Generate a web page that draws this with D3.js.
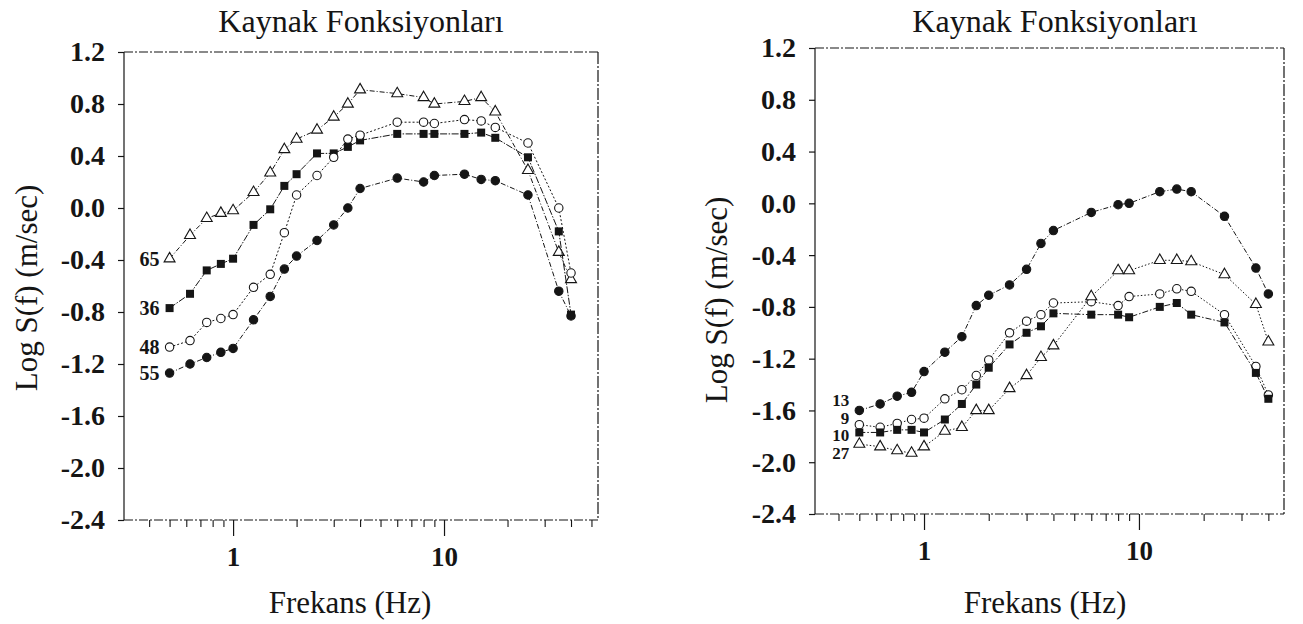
<!DOCTYPE html>
<html><head><meta charset="utf-8">
<script src="https://cdn.jsdelivr.net/npm/d3@7"></script>
<style>body{margin:0;background:#fff}</style>
</head><body>
<svg id="chart" width="1303" height="624"></svg>
<script>
// ---------- DATA ----------
const frequencies = [0.5, 0.625, 0.75, 0.875, 1.0, 1.25, 1.5, 1.75, 2.0, 2.5, 3.0, 3.5, 4.0, 6.0, 8.0, 9.0, 12.5, 15, 17.5, 25, 35, 40];

const leftNames = ["65", "36", "48", "55"];
const left65 = [-0.39,-0.21,-0.08,-0.04,-0.02,0.12,0.27,0.45,0.53,0.60,0.70,0.80,0.91,0.88,0.85,0.80,0.82,0.85,0.74,0.29,-0.34,-0.55];
const left36 = [-0.77,-0.66,-0.48,-0.43,-0.39,-0.13,-0.01,0.17,0.26,0.42,0.42,0.47,0.52,0.57,0.57,0.57,0.57,0.58,0.54,0.39,-0.18,-0.82];
const left48 = [-1.07,-1.02,-0.88,-0.85,-0.82,-0.61,-0.51,-0.19,0.10,0.25,0.39,0.53,0.56,0.66,0.66,0.65,0.68,0.67,0.62,0.50,0.00,-0.50];
const left55 = [-1.27,-1.20,-1.15,-1.11,-1.08,-0.86,-0.68,-0.47,-0.37,-0.25,-0.13,0.00,0.15,0.23,0.20,0.25,0.26,0.22,0.21,0.10,-0.64,-0.83];

const rightNames = ["13", "9", "10", "27"];
const right13 = [-1.60,-1.55,-1.49,-1.46,-1.30,-1.15,-1.03,-0.79,-0.71,-0.63,-0.51,-0.31,-0.21,-0.07,-0.01,0.00,0.09,0.11,0.09,-0.10,-0.50,-0.70];
const right9  = [-1.71,-1.73,-1.70,-1.67,-1.66,-1.51,-1.44,-1.33,-1.21,-1.00,-0.91,-0.86,-0.77,-0.76,-0.79,-0.72,-0.70,-0.66,-0.68,-0.86,-1.26,-1.48];
const right10 = [-1.77,-1.77,-1.75,-1.75,-1.77,-1.67,-1.55,-1.40,-1.27,-1.09,-1.00,-0.95,-0.85,-0.86,-0.86,-0.88,-0.80,-0.77,-0.86,-0.92,-1.31,-1.51];
const right27 = [-1.86,-1.88,-1.91,-1.93,-1.88,-1.76,-1.73,-1.60,-1.60,-1.43,-1.33,-1.19,-1.10,-0.72,-0.52,-0.52,-0.44,-0.44,-0.45,-0.55,-0.78,-1.07];
// vertical anchor (data units) of the right panel's stacked series labels
const rightNameLevels = [-1.52, -1.655, -1.79, -1.93];

const yTickValues = [1.2, 0.8, 0.4, 0.0, -0.4, -0.8, -1.2, -1.6, -2.0, -2.4];
const yTickLabels = ["1.2", "0.8", "0.4", "0.0", "-0.4", "-0.8", "-1.2", "-1.6", "-2.0", "-2.4"];
const xMajorTicks = [1, 10];
const xMajorLabels = ["1", "10"];
const xMinorTicks = [0.4,0.5,0.6,0.7,0.8,0.9,2,3,4,5,6,7,8,9,20,30,40,50];

const titleText = "Kaynak Fonksiyonları";
const xTitleText = "Frekans (Hz)";
const yTitleText = "Log S(f) (m/sec)";

// ---------- LAYOUT ----------
const FONT = '"Liberation Serif"';
const panels = [
  { left:124, right:598, top:52, bottom:520, xDomain:[0.304, 53.7],
    titleX:361, xTitleX:350, yTitleX:37, yTitleY:288,
    series:[
      {name:leftNames[0], values:left65, marker:"tri",    dash:"5,2,1,2"},
      {name:leftNames[1], values:left36, marker:"square", dash:"7,1.5,1.5,1.5"},
      {name:leftNames[2], values:left48, marker:"ocircle",dash:"2,2"},
      {name:leftNames[3], values:left55, marker:"fcircle",dash:"5,2,1,2"}
    ],
    nameFont:20, nameLevels:null },
  { left:815, right:1284, top:48, bottom:514, xDomain:[0.311, 47.3],
    titleX:1055, xTitleX:1045, yTitleX:727, yTitleY:300,
    series:[
      {name:rightNames[0], values:right13, marker:"fcircle",dash:"5,2,1,2"},
      {name:rightNames[1], values:right9,  marker:"ocircle",dash:"1.5,2"},
      {name:rightNames[2], values:right10, marker:"square", dash:"6,2,1.5,2"},
      {name:rightNames[3], values:right27, marker:"tri",    dash:"1.5,2"}
    ],
    nameFont:17, nameLevels:rightNameLevels }
];

const svg = d3.select("#chart");
const ink = "#151515";

panels.forEach(p => {
  const x = d3.scaleLog().domain(p.xDomain).range([p.left, p.right]);
  const y = d3.scaleLinear().domain([-2.4, 1.2]).range([p.bottom, p.top]);
  const g = svg.append("g");

  // frame
  const frame = [
    {x1:p.left, y1:p.top, x2:p.right, y2:p.top, dash:"9,2,2,2"},
    {x1:p.left, y1:p.bottom, x2:p.right, y2:p.bottom, dash:"9,2,2,2"},
    {x1:p.left, y1:p.top, x2:p.left, y2:p.bottom, dash:null},
    {x1:p.right, y1:p.top, x2:p.right, y2:p.bottom, dash:"12,2,2,2"}
  ];
  g.selectAll("line.frame").data(frame).join("line")
    .attr("class","frame")
    .attr("x1",d=>d.x1).attr("y1",d=>d.y1).attr("x2",d=>d.x2).attr("y2",d=>d.y2)
    .attr("stroke",ink).attr("stroke-width",1.2)
    .attr("stroke-dasharray",d=>d.dash);

  // y axis
  const yAxis = d3.axisLeft(y).tickValues(yTickValues)
    .tickFormat((d,i)=>yTickLabels[i]).tickSize(6).tickPadding(13);
  const ya = g.append("g").attr("transform",`translate(${p.left},0)`).call(yAxis);
  ya.select(".domain").remove();
  ya.selectAll("line").attr("stroke",ink).attr("stroke-width",1.2);
  ya.selectAll("text").style("font-family",FONT).style("font-size","28px")
    .style("font-weight","bold").style("fill",ink);

  // x axis minor ticks
  const minor = xMinorTicks.filter(v => v >= p.xDomain[0] && v <= p.xDomain[1]);
  const xMin = d3.axisBottom(x).tickValues(minor).tickFormat("").tickSize(7);
  const xa1 = g.append("g").attr("transform",`translate(0,${p.bottom})`).call(xMin);
  xa1.select(".domain").remove();
  xa1.selectAll("line").attr("stroke",ink).attr("stroke-width",1.1);

  // x axis major ticks
  const xMaj = d3.axisBottom(x).tickValues(xMajorTicks)
    .tickFormat((d,i)=>xMajorLabels[i]).tickSize(16).tickPadding(11);
  const xa2 = g.append("g").attr("transform",`translate(0,${p.bottom})`).call(xMaj);
  xa2.select(".domain").remove();
  xa2.selectAll("line").attr("stroke",ink).attr("stroke-width",1.2);
  xa2.selectAll("text").style("font-family",FONT).style("font-size","27px")
    .style("font-weight","bold").style("fill",ink);

  // titles
  const txt = (sel, size) => sel.style("font-family",FONT).style("font-size",size+"px").style("fill",ink);
  txt(g.append("text").attr("x",p.titleX).attr("y",32).attr("text-anchor","middle"), 32).text(titleText);
  txt(g.append("text").attr("x",p.xTitleX).attr("y",613).attr("text-anchor","middle"), 31).text(xTitleText);
  txt(g.append("text").attr("transform",`translate(${p.yTitleX},${p.yTitleY}) rotate(-90)`)
    .attr("text-anchor","middle"), 31).text(yTitleText);

  // series
  const line = d3.line().x((d,i)=>x(frequencies[i])).y(d=>y(d));
  p.series.forEach((s, si) => {
    g.append("path").datum(s.values)
      .attr("d", line).attr("fill","none").attr("stroke",ink)
      .attr("stroke-width",1).attr("stroke-dasharray",s.dash);
    const pts = s.values.map((v,i)=>({x:x(frequencies[i]), y:y(v)}));
    const mg = g.append("g");
    if (s.marker === "fcircle" || s.marker === "ocircle") {
      mg.selectAll("circle").data(pts).join("circle")
        .attr("cx",d=>d.x).attr("cy",d=>d.y).attr("r",4.2)
        .attr("fill", s.marker==="fcircle" ? ink : "#fff")
        .attr("stroke",ink).attr("stroke-width",1.1);
    } else if (s.marker === "square") {
      mg.selectAll("rect").data(pts).join("rect")
        .attr("x",d=>d.x-4).attr("y",d=>d.y-4).attr("width",8).attr("height",8)
        .attr("fill",ink);
    } else {
      const tri = d3.symbol().type(d3.symbolTriangle).size(52);
      mg.selectAll("path").data(pts).join("path")
        .attr("transform",d=>`translate(${d.x},${d.y})`)
        .attr("d",tri()).attr("fill","#fff").attr("stroke",ink).attr("stroke-width",1.1);
    }
    // series name label
    const lv = p.nameLevels ? p.nameLevels[si] : s.values[0];
    txt(g.append("text").attr("x", x(frequencies[0]) - 10).attr("y", y(lv))
      .attr("text-anchor","end").attr("dy","0.35em"), p.nameFont)
      .style("font-weight","bold").text(s.name);
  });
});
</script>
</body></html>
